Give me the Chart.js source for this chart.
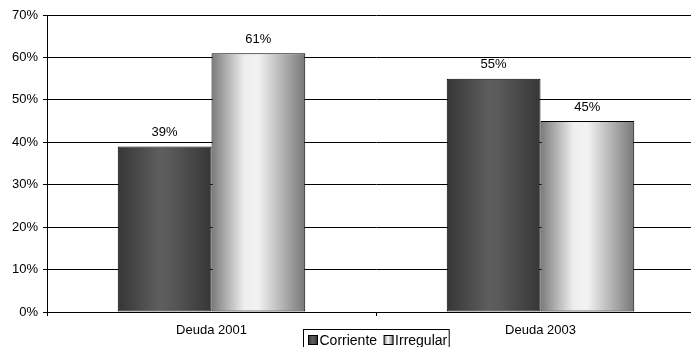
<!DOCTYPE html>
<html>
<head>
<meta charset="utf-8">
<script src="https://cdn.jsdelivr.net/npm/chart.js@4.4.0/dist/chart.umd.min.js"></script>
<style>
  html, body { margin: 0; padding: 0; background: #fff; overflow: hidden; }
  #wrap { width: 705px; height: 347px; }
</style>
</head>
<body>
<div id="wrap"><canvas id="deuda"></canvas></div>
<script>
const categories = ['Deuda 2001', 'Deuda 2003'];
const corriente = [39, 55];
const irregular = [61, 45];
const seriesNames = ['Corriente', 'Irregular'];
const yTicks = [0, 10, 20, 30, 40, 50, 60, 70];

const FONT = 'Arial, "Liberation Sans", sans-serif';
const FSIZE = 13;

// stops for the horizontal "cylinder" shading of each series
const shades = [
    [[0, '#363636'], [0.45, '#5e5e5e'], [0.55, '#5a5a5a'], [1, '#363636']],
    [[0, '#7a7a7a'], [0.35, '#eeeeee'], [0.5, '#f2f2f2'], [1, '#777777']]
];

// options objects are shared between bars, so give each bar its own copy
const shadePlugin = {
    id: 'shade',
    beforeDatasetsDraw(chart) {
        const ctx = chart.ctx;
        chart.data.datasets.forEach((ds, i) => {
            chart.getDatasetMeta(i).data.forEach(bar => {
                const left = bar.x - bar.width / 2;
                const g = ctx.createLinearGradient(left, 0, left + bar.width, 0);
                shades[i].forEach(s => g.addColorStop(s[0], s[1]));
                bar.options = Object.assign({}, bar.options, { backgroundColor: g, borderColor: '#000' });
            });
        });
    }
};

const labelPlugin = {
    id: 'valueLabels',
    afterDatasetsDraw(chart) {
        const ctx = chart.ctx;
        ctx.save();
        ctx.font = FSIZE + 'px ' + FONT;
        ctx.fillStyle = '#000';
        ctx.textAlign = 'center';
        ctx.textBaseline = 'middle';
        chart.data.datasets.forEach((ds, i) => {
            chart.getDatasetMeta(i).data.forEach((bar, j) => {
                ctx.fillText(ds.data[j] + '%', bar.x, bar.y - 14);
            });
        });
        ctx.restore();
    }
};

// legend drawn in a box, centred under the plot
const boxLegend = {
    id: 'boxLegend',
    afterDraw(chart) {
        const ctx = chart.ctx;
        const area = chart.chartArea;
        ctx.save();
        ctx.font = '14px ' + FONT;
        ctx.textBaseline = 'middle';
        const sw = 9, gap = 2, between = 7, padL = 5, padR = 2;
        let total = padL + padR;
        seriesNames.forEach((n, i) => {
            total += sw + gap + ctx.measureText(n).width;
            if (i < seriesNames.length - 1) total += between;
        });
        const cx = (area.left + area.right) / 2;
        const x0 = Math.round(cx - total / 2) + 0.5;
        const y0 = 329.5, h = 22;
        ctx.strokeStyle = '#000';
        ctx.lineWidth = 1;
        ctx.fillStyle = '#fff';
        ctx.fillRect(x0, y0, total, h);
        ctx.strokeRect(x0, y0, total, h);
        let x = x0 + padL;
        const cy = 340;
        seriesNames.forEach((n, i) => {
            const g = ctx.createLinearGradient(x, 0, x + sw, 0);
            shades[i].forEach(s => g.addColorStop(s[0], s[1]));
            ctx.fillStyle = g;
            ctx.fillRect(x, cy - sw / 2, sw, sw);
            ctx.strokeRect(x, cy - sw / 2, sw, sw);
            x += sw + gap;
            ctx.fillStyle = '#000';
            ctx.fillText(n, x, cy + 1);
            x += ctx.measureText(n).width + between;
        });
        ctx.restore();
    }
};

new Chart(document.getElementById('deuda'), {
    type: 'bar',
    data: {
        labels: categories,
        datasets: [{
            label: seriesNames[0],
            data: corriente,
            borderColor: '#000',
            borderWidth: 1,
            borderSkipped: false,
            barPercentage: 1,
            categoryPercentage: 0.57
        }, {
            label: seriesNames[1],
            data: irregular,
            borderColor: '#000',
            borderWidth: 1,
            borderSkipped: false,
            barPercentage: 1,
            categoryPercentage: 0.57
        }]
    },
    options: {
        responsive: true,
        maintainAspectRatio: false,
        animation: false,
        layout: { padding: { top: 15, right: 0, bottom: 0, left: 0 } },
        plugins: {
            legend: { display: false },
            tooltip: { enabled: false }
        },
        scales: {
            x: {
                grid: { offset: true, drawOnChartArea: false, color: '#000', tickLength: 4 },
                border: { color: '#000' },
                ticks: { color: '#000', font: { family: FONT, size: FSIZE }, padding: 7 },
                afterFit(scale) { scale.height = 35; }
            },
            y: {
                min: 0,
                max: 70,
                afterBuildTicks(scale) { scale.ticks = yTicks.map(v => ({ value: v })); },
                grid: { color: '#000', tickLength: 4 },
                border: { color: '#000' },
                ticks: {
                    color: '#000',
                    font: { family: FONT, size: FSIZE },
                    padding: 5,
                    callback: v => v + '%'
                },
                afterFit(scale) { scale.width = 47; }
            }
        }
    },
    plugins: [shadePlugin, labelPlugin, boxLegend]
});
</script>
</body>
</html>
